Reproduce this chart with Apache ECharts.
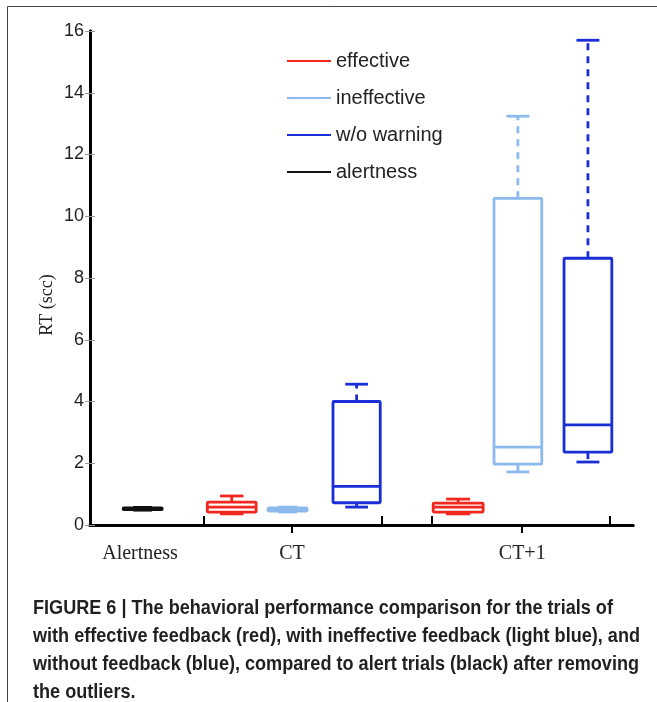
<!DOCTYPE html>
<html>
<head>
<meta charset="utf-8">
<script src="https://cdn.jsdelivr.net/npm/echarts@6/dist/echarts.min.js"></script>
<style>
  html, body { margin: 0; padding: 0; background: #fff; }
  #chart { width: 657px; height: 702px; }
</style>
</head>
<body>
<div id="chart"></div>
<script>
// groups on the x axis and where their labels sit (x axis units, 0..10)
const groups = ['Alertness', 'CT', 'CT+1']
const groupLabelX = [0.92, 3.72, 7.96]
const groupEdgeX = [2.10, 5.38, 6.30, 9.58]
const yTicks = [0, 2, 4, 6, 8, 10, 12, 14, 16]

// box values: [low whisker, q1, median, q3, high whisker]
const alertnessX = [0.97]
const alertnessBoxes = [[0.48, 0.50, 0.52, 0.55, 0.57]]
const effectiveX = [2.61, 6.78]
const effectiveBoxes = [
  [0.36, 0.42, 0.58, 0.74, 0.94],
  [0.36, 0.42, 0.58, 0.71, 0.84],
]
const ineffectiveX = [3.64, 7.88]
const ineffectiveBoxes = [
  [0.42, 0.45, 0.50, 0.55, 0.58],
  [1.72, 1.97, 2.52, 10.58, 13.24],
]
const noWarningX = [4.91, 9.17]
const noWarningBoxes = [
  [0.58, 0.72, 1.25, 4.00, 4.56],
  [2.04, 2.36, 3.24, 8.64, 15.70],
]

const caption = [
  'FIGURE 6 | The behavioral performance comparison for the trials of',
  'with effective feedback (red), with ineffective feedback (light blue), and',
  'without feedback (blue), compared to alert trials (black) after removing',
  'the outliers.',
]

const toRows = (xs, boxes) => xs.map((x, i) => [x, ...boxes[i]])

// box widths in x-axis units (the collapsed ones were drawn narrower)
const seriesDefs = [
  { name: 'effective', color: '#f0281e', rows: toRows(effectiveX, effectiveBoxes), widths: [0.9, 0.92] },
  { name: 'ineffective', color: '#8cb9ee', rows: toRows(ineffectiveX, ineffectiveBoxes), widths: [0.72, 0.88] },
  { name: 'w/o warning', color: '#1a2ed8', rows: toRows(noWarningX, noWarningBoxes), widths: [0.87, 0.88] },
  { name: 'alertness', color: '#111111', rows: toRows(alertnessX, alertnessBoxes), widths: [0.72] },
]

const makeRender = (def) => (params, api) => {
  const x = api.value(0)
  const [low, q1, med, q3, high] = [1, 2, 3, 4, 5].map((d) => api.value(d))
  const w = def.widths[params.dataIndex]
  const left = api.coord([x - w / 2, q3])
  const right = api.coord([x + w / 2, q1])
  const capL = api.coord([x - w * 0.24, 0])[0]
  const capR = api.coord([x + w * 0.24, 0])[0]
  const cx = api.coord([x, 0])[0]
  const yLow = api.coord([x, low])[1]
  const yHigh = api.coord([x, high])[1]
  const yMed = api.coord([x, med])[1]
  const solid = { stroke: def.color, lineWidth: 2.8, fill: null }
  const dashed = { stroke: def.color, lineWidth: 2.8, lineDash: [7, 6], fill: null }
  return {
    type: 'group',
    children: [
      { type: 'line', shape: { x1: cx, y1: left[1], x2: cx, y2: yHigh }, style: dashed },
      { type: 'line', shape: { x1: cx, y1: right[1], x2: cx, y2: yLow }, style: dashed },
      { type: 'line', shape: { x1: capL, y1: yHigh, x2: capR, y2: yHigh }, style: solid },
      { type: 'line', shape: { x1: capL, y1: yLow, x2: capR, y2: yLow }, style: solid },
      {
        type: 'rect',
        shape: { x: left[0], y: left[1], width: right[0] - left[0], height: right[1] - left[1], r: 1 },
        style: solid,
      },
      { type: 'line', shape: { x1: left[0], y1: yMed, x2: right[0], y2: yMed }, style: solid },
    ],
  }
}

const chart = echarts.init(document.getElementById('chart'), null, { renderer: 'canvas' })

const sansFont = '"Liberation Sans", Arial, Helvetica, sans-serif'
const serifFont = '"Liberation Serif", "Times New Roman", serif'
const captionFont = 'bold 20px "Liberation Sans", Arial, sans-serif'

// the caption is set in a condensed face; squeeze a normal bold face to the same width
const measureCtx = document.createElement('canvas').getContext('2d')
measureCtx.font = captionFont
const captionScale = 607 / measureCtx.measureText(caption[1]).width

const option = {
  backgroundColor: '#fff',
  animation: false,
  grid: { left: 90, right: 24, top: 31, bottom: 177 },
  legend: {
    orient: 'vertical',
    left: 282,
    top: 46,
    itemWidth: 44,
    itemHeight: 2,
    itemGap: 17,
    icon: 'rect',
    textStyle: { fontFamily: sansFont, fontSize: 20, color: '#222', lineHeight: 20 },
    data: seriesDefs.map((d) => ({ name: d.name, itemStyle: { color: d.color } })),
  },
  xAxis: [
    {
      type: 'value',
      position: 'bottom',
      min: 0,
      max: 10,
      splitLine: { show: false },
      axisLine: { show: true, lineStyle: { color: '#000', width: 3 } },
      axisTick: {
        show: true,
        inside: false,
        length: 8,
        customValues: groupLabelX.slice(1),
        lineStyle: { color: '#000', width: 2 },
      },
      axisLabel: {
        customValues: groupLabelX,
        margin: 19,
        fontFamily: serifFont,
        fontSize: 20,
        color: '#222',
        formatter: (v) => {
          let best = 0
          groupLabelX.forEach((g, i) => {
            if (Math.abs(g - v) < Math.abs(groupLabelX[best] - v)) best = i
          })
          return groups[best]
        },
      },
    },
    {
      type: 'value',
      position: 'top',
      min: 0,
      max: 10,
      splitLine: { show: false },
      axisLine: { show: true, lineStyle: { color: '#000', width: 3 } },
      axisTick: { show: false },
      axisLabel: { show: false },
    },
    {
      type: 'value',
      position: 'bottom',
      min: 0,
      max: 10,
      splitLine: { show: false },
      axisLine: { show: false },
      axisTick: {
        show: true,
        inside: true,
        length: 9,
        customValues: groupEdgeX,
        lineStyle: { color: '#000', width: 2 },
      },
      axisLabel: { show: false },
    },
  ],
  yAxis: [
    {
      type: 'value',
      position: 'left',
      min: 0,
      max: 16,
      interval: 2,
      splitLine: { show: false },
      axisLine: { show: true, lineStyle: { color: '#000', width: 3 } },
      axisTick: { show: true, inside: true, length: 5, lineStyle: { color: '#999', width: 1 } },
      axisLabel: { margin: 6, fontFamily: sansFont, fontSize: 18, color: '#222', customValues: yTicks },
    },
    {
      type: 'value',
      position: 'right',
      min: 0,
      max: 16,
      interval: 2,
      splitLine: { show: false },
      axisLine: { show: true, lineStyle: { color: '#000', width: 3 } },
      axisTick: { show: true, inside: true, length: 5, lineStyle: { color: '#999', width: 1 } },
      axisLabel: { show: false },
    },
  ],
  series: seriesDefs.map((d) => ({
    name: d.name,
    type: 'custom',
    xAxisIndex: 0,
    yAxisIndex: 0,
    itemStyle: { color: d.color },
    renderItem: makeRender(d),
    encode: { x: 0, y: [1, 2, 3, 4, 5] },
    data: d.rows,
  })),
  graphic: [
    {
      type: 'polyline',
      shape: { points: [[7.5, 702], [7.5, 6.5], [657, 6.5]] },
      style: { stroke: '#444', lineWidth: 1, fill: null },
    },
    {
      type: 'text',
      x: 47,
      y: 305,
      rotation: Math.PI / 2,
      style: {
        text: 'RT (scc)',
        font: '18px ' + serifFont,
        fill: '#222',
        align: 'center',
        verticalAlign: 'middle',
      },
    },
    {
      type: 'text',
      x: 33,
      y: 594,
      scaleX: captionScale,
      style: {
        text: caption.join('\n'),
        font: captionFont,
        lineHeight: 28,
        fill: '#231f20',
        verticalAlign: 'top',
      },
    },
  ],
}

chart.setOption(option)
window.addEventListener('resize', () => chart.resize())
</script>
</body>
</html>
